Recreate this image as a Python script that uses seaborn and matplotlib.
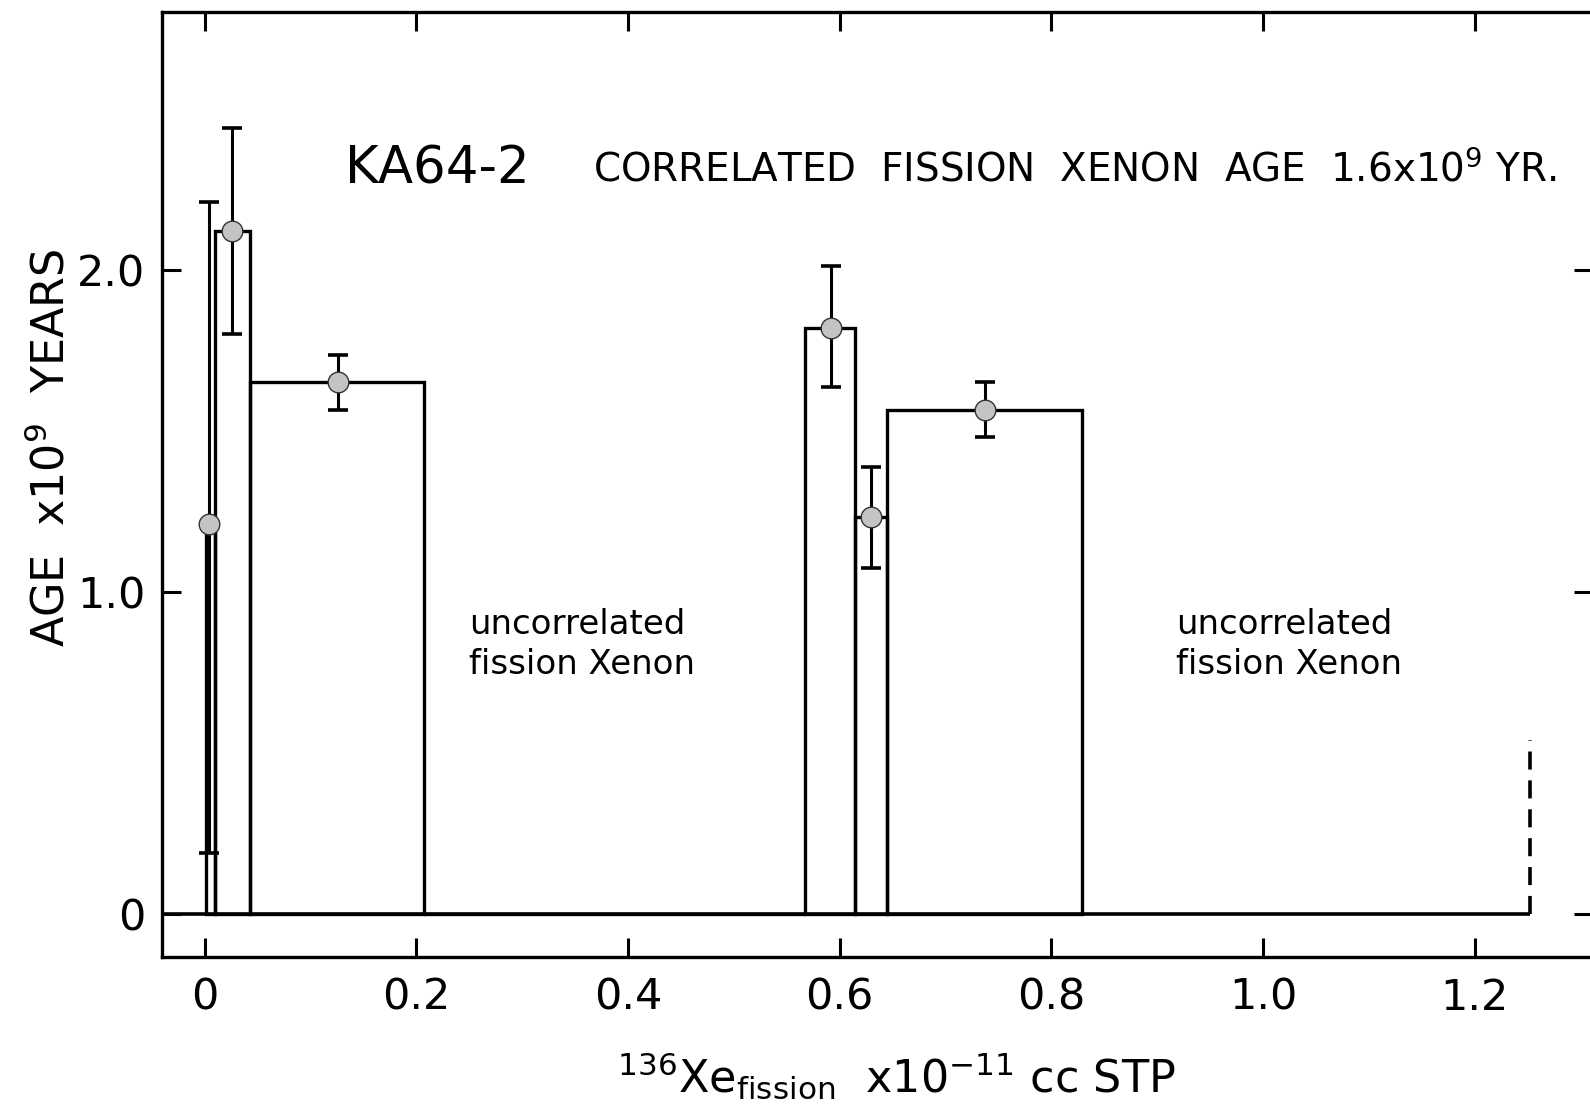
import matplotlib
matplotlib.use("Agg")
import matplotlib.pyplot as plt
import seaborn as sns
import numpy as np

# ---- data ----
bin_edges = [0.0013, 0.0099, 0.0426, 0.2077, 0.567, 0.615, 0.6447, 0.829]
bar_heights = [1.20, 2.12, 1.652, 0.0, 1.82, 1.232, 1.565]

point_x = [0.0047, 0.026, 0.126, 0.592, 0.630, 0.737]
point_y = [1.21, 2.12, 1.652, 1.82, 1.232, 1.565]
err_low = [0.19, 1.80, 1.566, 1.637, 1.074, 1.482]
err_high = [2.21, 2.44, 1.735, 2.011, 1.389, 1.651]

dash_x = 1.252
dash_top = 0.54

x_ticks = [0, 0.2, 0.4, 0.6, 0.8, 1.0, 1.2]
x_tick_labels = ["0", "0.2", "0.4", "0.6", "0.8", "1.0", "1.2"]
y_ticks = [0, 1.0, 2.0]
y_tick_labels = ["0", "1.0", "2.0"]

sns.set_theme(style="white")
plt.rcParams["font.family"] = ["DejaVu Sans"]

fig = plt.figure(figsize=(15.9, 11.17), dpi=100)
ax = fig.add_axes([0.102, 0.143, 0.900, 0.846])
xmin, xmax = -0.040, 1.312
ymin, ymax = -0.134, 2.799

centers = [(bin_edges[i] + bin_edges[i + 1]) / 2 for i in range(len(bar_heights))]
sns.histplot(x=centers, weights=bar_heights, bins=bin_edges, element="bars",
             fill=False, color="black", linewidth=2.4, ax=ax, zorder=2)

# baseline and dashed end marker
ax.hlines(0, xmin, dash_x, color="black", linewidth=2.6, zorder=2)
ax.vlines(dash_x, 0, dash_top, color="black", linewidth=2.6,
          linestyles=(0, (5, 3)), zorder=2)

yerr = [np.array(point_y) - np.array(err_low), np.array(err_high) - np.array(point_y)]
ax.errorbar(point_x, point_y, yerr=yerr, fmt="none", ecolor="black",
            elinewidth=2.2, capsize=7.5, capthick=2.6, zorder=3)
sns.scatterplot(x=point_x, y=point_y, s=220, color="#c4c4c4", edgecolor="#333333",
                linewidth=1.0, ax=ax, zorder=5)

ax.set_xlim(xmin, xmax)
ax.set_ylim(ymin, ymax)
ax.set_xticks(x_ticks)
ax.set_xticklabels(x_tick_labels)
ax.set_yticks(y_ticks)
ax.set_yticklabels(y_tick_labels)
ax.set_xlabel("")
ax.set_ylabel("")
ax.tick_params(axis="both", which="both", direction="in", length=14, width=2.2,
               color="black", labelsize=31, labelcolor="black",
               top=True, right=True, bottom=True, left=True)
ax.tick_params(axis="x", pad=14)
ax.tick_params(axis="y", pad=12)
for sp in ax.spines.values():
    sp.set_visible(True)
    sp.set_color("black")
    sp.set_linewidth(2.4)
ax.grid(False)
ax.set_facecolor("white")

ax.text(0.1325, 2.31, "KA64-2", fontsize=37, va="center", ha="left", color="black")
ax.text(0.367, 2.31, r"CORRELATED  FISSION  XENON  AGE  1.6x10$^{9}$ YR.",
        fontsize=28, va="center", ha="left", color="black")
ax.text(0.250, 0.949, "uncorrelated\nfission Xenon", fontsize=24.5, va="top",
        ha="left", linespacing=1.25, color="black")
ax.text(0.918, 0.949, "uncorrelated\nfission Xenon", fontsize=24.5, va="top",
        ha="left", linespacing=1.25, color="black")

fig.text(0.032, 0.599, r"AGE  x10$^{9}$  YEARS", rotation=90, fontsize=32,
         va="center", ha="center", color="black")
fig.text(0.564, 0.036, r"$^{136}$Xe$_{\mathrm{fission}}$  x10$^{-11}$ cc STP",
         fontsize=32, va="center", ha="center", color="black")

fig.savefig("out.png", dpi=100, facecolor="white")
